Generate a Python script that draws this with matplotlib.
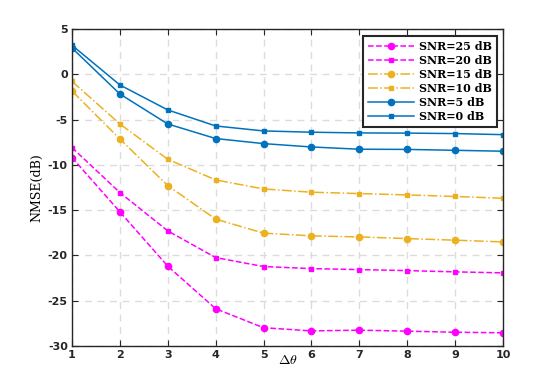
import matplotlib.pyplot as plt
import numpy as np

plt.rcParams['axes.unicode_minus'] = False
plt.rcParams['mathtext.fontset'] = 'cm'

delta_theta = [1, 2, 3, 4, 5, 6, 7, 8, 9, 10]

snr25 = [-9.2, -15.2, -21.2, -25.9, -28.0, -28.35, -28.27, -28.38, -28.5, -28.56]
snr20 = [-8.1, -13.07, -17.3, -20.25, -21.24, -21.47, -21.58, -21.69, -21.83, -21.94]
snr15 = [-1.85, -7.15, -12.3, -16.0, -17.55, -17.85, -17.97, -18.15, -18.33, -18.52]
snr10 = [-0.78, -5.49, -9.39, -11.67, -12.67, -13.03, -13.18, -13.33, -13.5, -13.7]
snr5 = [2.9, -2.18, -5.49, -7.1, -7.66, -8.03, -8.28, -8.3, -8.4, -8.5]
snr0 = [3.2, -1.18, -3.94, -5.71, -6.26, -6.4, -6.48, -6.5, -6.55, -6.67]

labels = ['SNR=25 dB', 'SNR=20 dB', 'SNR=15 dB', 'SNR=10 dB', 'SNR=5 dB', 'SNR=0 dB']

magenta = '#FF00FF'
orange = '#EDB120'
blue = '#0072BD'

fig = plt.figure(figsize=(5.56, 3.89), dpi=100)
ax = fig.add_axes([0.1295, 0.111, 0.775, 0.8144])

ax.plot(delta_theta, snr25, color=magenta, ls='--', marker='o', ms=4.5, lw=1.1, label=labels[0])
ax.plot(delta_theta, snr20, color=magenta, ls='--', marker='s', ms=3.0, lw=1.1, label=labels[1])
ax.plot(delta_theta, snr15, color=orange, ls='-.', marker='o', ms=4.5, lw=1.1, label=labels[2])
ax.plot(delta_theta, snr10, color=orange, ls='-.', marker='s', ms=3.0, lw=1.1, label=labels[3])
ax.plot(delta_theta, snr5, color=blue, ls='-', marker='o', ms=4.5, lw=1.1, label=labels[4])
ax.plot(delta_theta, snr0, color=blue, ls='-', marker='s', ms=3.0, lw=1.1, label=labels[5])

ax.set_xlim(1, 10)
ax.set_ylim(-30, 5)
ax.set_xticks(range(1, 11))
ax.set_yticks(range(-30, 6, 5))

ax.grid(True, color='#dcdcdc', linestyle=(0, (5, 4)), linewidth=1.0)
ax.set_axisbelow(True)

for spine in ax.spines.values():
    spine.set_color('#262626')
    spine.set_linewidth(1.0)
ax.tick_params(direction='in', top=True, right=True, length=4, colors='#262626',
               labelsize=8, pad=3)
for lbl in ax.get_xticklabels() + ax.get_yticklabels():
    lbl.set_fontweight('bold')

ax.set_xlabel(r'$\mathbf{\Delta}\theta$', fontsize=10, labelpad=-5)
ax.set_ylabel('NMSE(dB)', fontsize=9, family='DejaVu Serif', labelpad=3)

leg = ax.legend(loc='upper right', bbox_to_anchor=(0.986, 0.978),
                prop={'family': 'DejaVu Serif', 'weight': 'bold', 'size': 8},
                fancybox=False, framealpha=1, edgecolor='#262626',
                handlelength=4.2, labelspacing=0.27, borderpad=0.45, handletextpad=0.4,
                borderaxespad=0)
leg.get_frame().set_linewidth(1.5)

fig.savefig('out.png', dpi=100, facecolor='white')
